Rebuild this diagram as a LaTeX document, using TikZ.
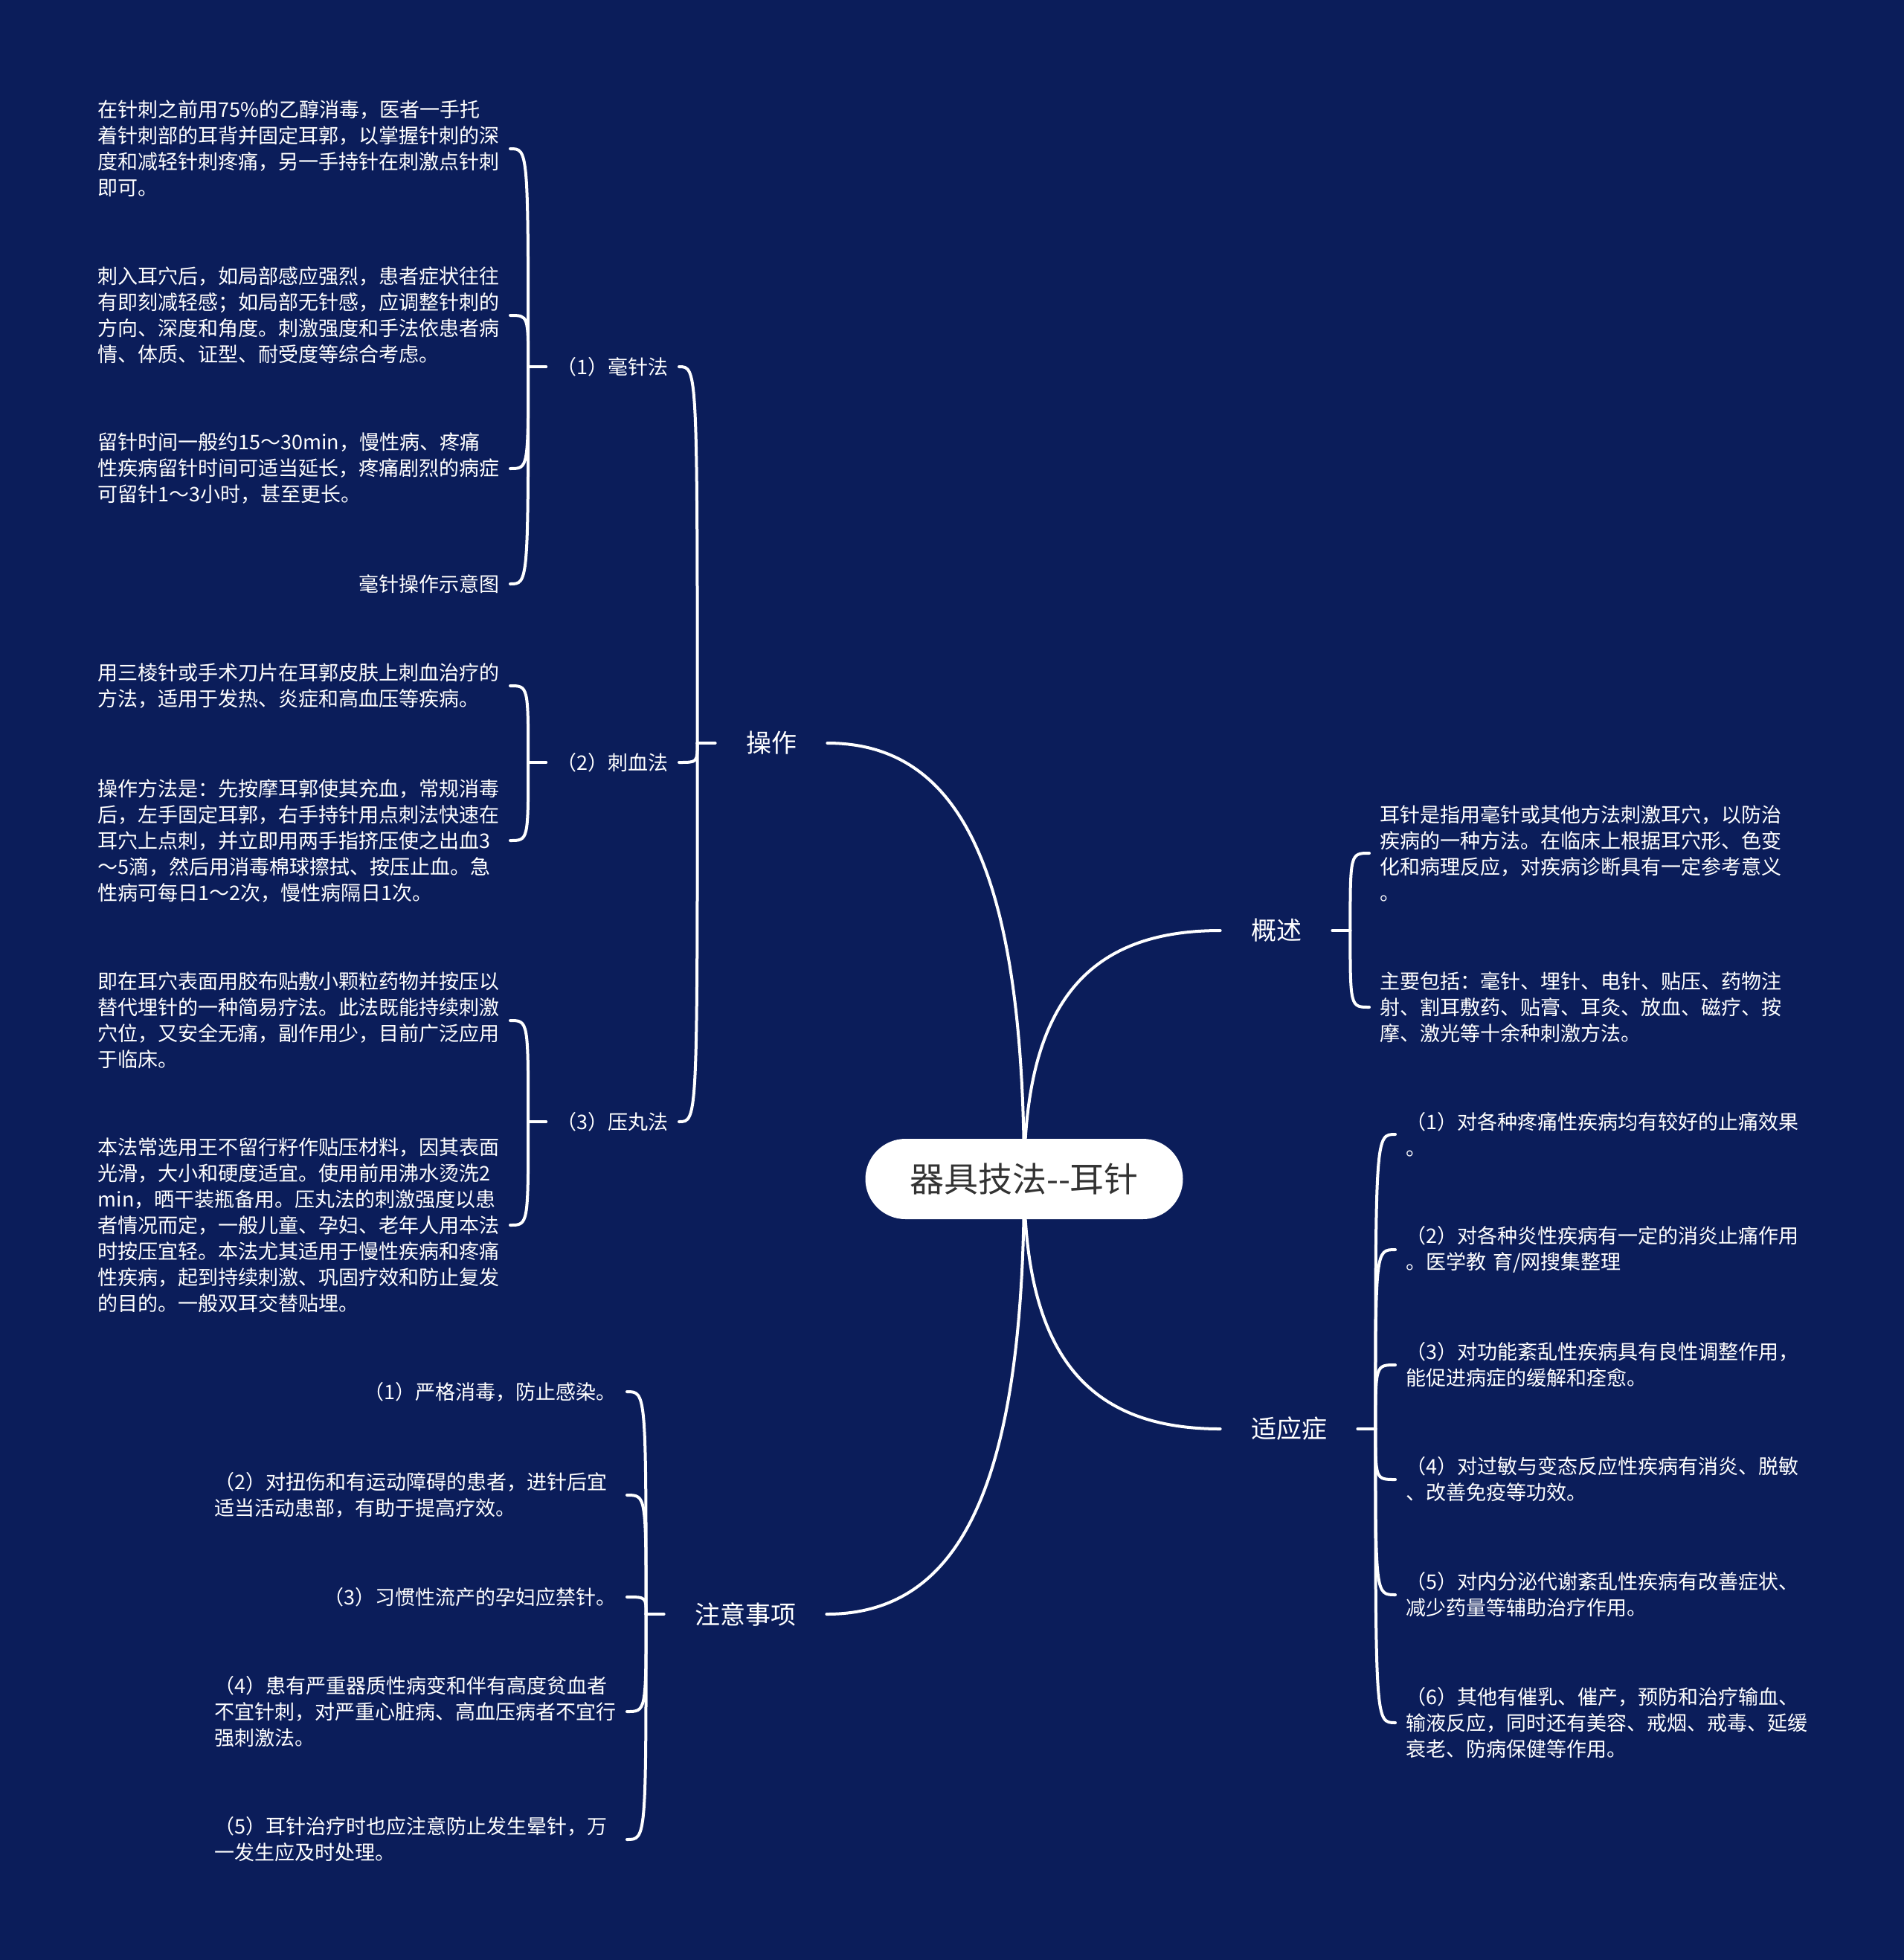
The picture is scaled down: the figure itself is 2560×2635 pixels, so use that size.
\documentclass[tikz,border=0pt]{standalone}
\usepackage{fontspec}
\setmainfont{Noto Sans CJK SC}
\usetikzlibrary{calc}
\definecolor{bgc}{RGB}{11,29,90}
\definecolor{ctext}{RGB}{51,51,51}
\pgfdeclarelayer{bg}
\pgfsetlayers{bg,main}
\begin{document}
\begin{tikzpicture}[x=0.5pt,y=-0.5pt,
  conn/.style={draw=white, line width=2pt, line cap=round},
  root/.style={rounded corners=27pt, fill=white, minimum width=213.5pt, minimum height=54pt, text=ctext, font=\fontsize{23pt}{28pt}\selectfont, inner sep=0pt},
  mainlbl/.style={text=white, font=\fontsize{17pt}{20pt}\selectfont, inner xsep=20.5pt, inner ysep=2pt},
  sublbl/.style={text=white, font=\fontsize{13.5pt}{17.5pt}\selectfont, inner xsep=7pt, inner ysep=2pt},
  leaf/.style={text=white, font=\fontsize{13.5pt}{17.5pt}\selectfont, inner xsep=7pt, inner ysep=2pt, align=left},
  wleaf/.style={leaf, text width=270pt}]
\useasboundingbox (0,0) rectangle (2560,2635);

% root and main branches
\node[root] (root) at (1377,1585) {器具技法\mbox{-}\mbox{-}耳针};
\node[mainlbl] (op) at (1037,999) {操作};
\node[mainlbl] (zy) at (1002,2170) {注意事项};
\node[mainlbl] (gs) at (1716,1251) {概述};
\node[mainlbl] (sy) at (1733,1921) {适应症};

% 操作 sub branches
\node[sublbl, anchor=east] (hz) at (913,493) {（1）毫针法};
\node[sublbl, anchor=east] (cx) at (913,1025) {（2）刺血法};
\node[sublbl, anchor=east] (yw) at (913,1508) {（3）压丸法};

\node[wleaf, anchor=east] (hz1) at (686,200) {在针刺之前用75\%的乙醇消毒，医者一手托\\着针刺部的耳背并固定耳郭，以掌握针刺的深\\度和减轻针刺疼痛，另一手持针在刺激点针刺\\即可。};
\node[wleaf, anchor=east] (hz2) at (686,424) {刺入耳穴后，如局部感应强烈，患者症状往往\\有即刻减轻感；如局部无针感，应调整针刺的\\方向、深度和角度。刺激强度和手法依患者病\\情、体质、证型、耐受度等综合考虑。};
\node[wleaf, anchor=east] (hz3) at (686,630) {留针时间一般约15～30min，慢性病、疼痛\\性疾病留针时间可适当延长，疼痛剧烈的病症\\可留针1～3小时，甚至更长。};
\node[leaf, anchor=east] (hz4) at (686,785) {毫针操作示意图};

\node[wleaf, anchor=east] (cx1) at (686,922) {用三棱针或手术刀片在耳郭皮肤上刺血治疗的\\方法，适用于发热、炎症和高血压等疾病。};
\node[wleaf, anchor=east] (cx2) at (686,1130) {操作方法是：先按摩耳郭使其充血，常规消毒\\后，左手固定耳郭，右手持针用点刺法快速在\\耳穴上点刺，并立即用两手指挤压使之出血3\\～5滴，然后用消毒棉球擦拭、按压止血。急\\性病可每日1～2次，慢性病隔日1次。};

\node[wleaf, anchor=east] (yw1) at (686,1372) {即在耳穴表面用胶布贴敷小颗粒药物并按压以\\替代埋针的一种简易疗法。此法既能持续刺激\\穴位，又安全无痛，副作用少，目前广泛应用\\于临床。};
\node[wleaf, anchor=east] (yw2) at (686,1647) {本法常选用王不留行籽作贴压材料，因其表面\\光滑，大小和硬度适宜。使用前用沸水烫洗2\\min，晒干装瓶备用。压丸法的刺激强度以患\\者情况而定，一般儿童、孕妇、老年人用本法\\时按压宜轻。本法尤其适用于慢性疾病和疼痛\\性疾病，起到持续刺激、巩固疗效和防止复发\\的目的。一般双耳交替贴埋。};

% 注意事项 children
\node[leaf, anchor=east] (zy1) at (843,1871) {（1）严格消毒，防止感染。};
\node[wleaf, anchor=east] (zy2) at (843,2010) {（2）对扭伤和有运动障碍的患者，进针后宜\\适当活动患部，有助于提高疗效。};
\node[leaf, anchor=east] (zy3) at (843,2147) {（3）习惯性流产的孕妇应禁针。};
\node[wleaf, anchor=east] (zy4) at (843,2301) {（4）患有严重器质性病变和伴有高度贫血者\\不宜针刺，对严重心脏病、高血压病者不宜行\\强刺激法。};
\node[wleaf, anchor=east] (zy5) at (843,2473) {（5）耳针治疗时也应注意防止发生晕针，万\\一发生应及时处理。};

% 概述 children
\node[wleaf, anchor=west] (gs1) at (1841,1147) {耳针是指用毫针或其他方法刺激耳穴，以防治\\疾病的一种方法。在临床上根据耳穴形、色变\\化和病理反应，对疾病诊断具有一定参考意义\\。};
\node[wleaf, anchor=west] (gs2) at (1841,1354) {主要包括：毫针、埋针、电针、贴压、药物注\\射、割耳敷药、贴膏、耳灸、放血、磁疗、按\\摩、激光等十余种刺激方法。};

% 适应症 children
\node[wleaf, anchor=west] (sy1) at (1876,1525) {（1）对各种疼痛性疾病均有较好的止痛效果\\。};
\node[wleaf, anchor=west] (sy2) at (1876,1680) {（2）对各种炎性疾病有一定的消炎止痛作用\\。医学教 育/网搜集整理};
\node[wleaf, anchor=west] (sy3) at (1876,1835) {（3）对功能紊乱性疾病具有良性调整作用，\\能促进病症的缓解和痊愈。};
\node[wleaf, anchor=west] (sy4) at (1876,1989) {（4）对过敏与变态反应性疾病有消炎、脱敏\\、改善免疫等功效。};
\node[wleaf, anchor=west] (sy5) at (1876,2144) {（5）对内分泌代谢紊乱性疾病有改善症状、\\减少药量等辅助治疗作用。};
\node[wleaf, anchor=west] (sy6) at (1876,2316) {（6）其他有催乳、催产，预防和治疗输血、\\输液反应，同时还有美容、戒烟、戒毒、延缓\\衰老、防病保健等作用。};

\begin{pgfonlayer}{bg}
\fill[bgc] (0,0) rectangle (2560,2635);
% main curves
\draw[conn] (root.center) .. controls (1377,1175) and (1293,999) .. (op.east);
\draw[conn] (root.center) .. controls (1377,1995) and (1292,2170) .. (zy.east);
\draw[conn] (root.center) .. controls (1377,1350) and (1461,1251) .. (gs.west);
\draw[conn] (root.center) .. controls (1377,1820) and (1461,1921) .. (sy.west);

% 操作 bracket
\draw[conn] (op.west) -- ++(-24,0) coordinate (sop);
\draw[conn] (sop) .. controls (sop |- hz.east) .. (hz.east);
\draw[conn] (sop) .. controls (sop |- cx.east) .. (cx.east);
\draw[conn] (sop) .. controls (sop |- yw.east) .. (yw.east);

% 毫针法 bracket
\draw[conn] (hz.west) -- ++(-24,0) coordinate (shz);
\draw[conn] (shz) .. controls (shz |- hz1.east) .. (hz1.east);
\draw[conn] (shz) .. controls (shz |- hz2.east) .. (hz2.east);
\draw[conn] (shz) .. controls (shz |- hz3.east) .. (hz3.east);
\draw[conn] (shz) .. controls (shz |- hz4.east) .. (hz4.east);

% 刺血法 bracket
\draw[conn] (cx.west) -- ++(-24,0) coordinate (scx);
\draw[conn] (scx) .. controls (scx |- cx1.east) .. (cx1.east);
\draw[conn] (scx) .. controls (scx |- cx2.east) .. (cx2.east);

% 压丸法 bracket
\draw[conn] (yw.west) -- ++(-24,0) coordinate (syw);
\draw[conn] (syw) .. controls (syw |- yw1.east) .. (yw1.east);
\draw[conn] (syw) .. controls (syw |- yw2.east) .. (yw2.east);

% 注意事项 bracket
\draw[conn] (zy.west) -- ++(-24,0) coordinate (szy);
\draw[conn] (szy) .. controls (szy |- zy1.east) .. (zy1.east);
\draw[conn] (szy) .. controls (szy |- zy2.east) .. (zy2.east);
\draw[conn] (szy) .. controls (szy |- zy3.east) .. (zy3.east);
\draw[conn] (szy) .. controls (szy |- zy4.east) .. (zy4.east);
\draw[conn] (szy) .. controls (szy |- zy5.east) .. (zy5.east);

% 概述 bracket
\draw[conn] (gs.east) -- ++(24,0) coordinate (sgs);
\draw[conn] (sgs) .. controls (sgs |- gs1.west) .. (gs1.west);
\draw[conn] (sgs) .. controls (sgs |- gs2.west) .. (gs2.west);

% 适应症 bracket
\draw[conn] (sy.east) -- ++(24,0) coordinate (ssy);
\draw[conn] (ssy) .. controls (ssy |- sy1.west) .. (sy1.west);
\draw[conn] (ssy) .. controls (ssy |- sy2.west) .. (sy2.west);
\draw[conn] (ssy) .. controls (ssy |- sy3.west) .. (sy3.west);
\draw[conn] (ssy) .. controls (ssy |- sy4.west) .. (sy4.west);
\draw[conn] (ssy) .. controls (ssy |- sy5.west) .. (sy5.west);
\draw[conn] (ssy) .. controls (ssy |- sy6.west) .. (sy6.west);
\end{pgfonlayer}
\end{tikzpicture}
\end{document}
